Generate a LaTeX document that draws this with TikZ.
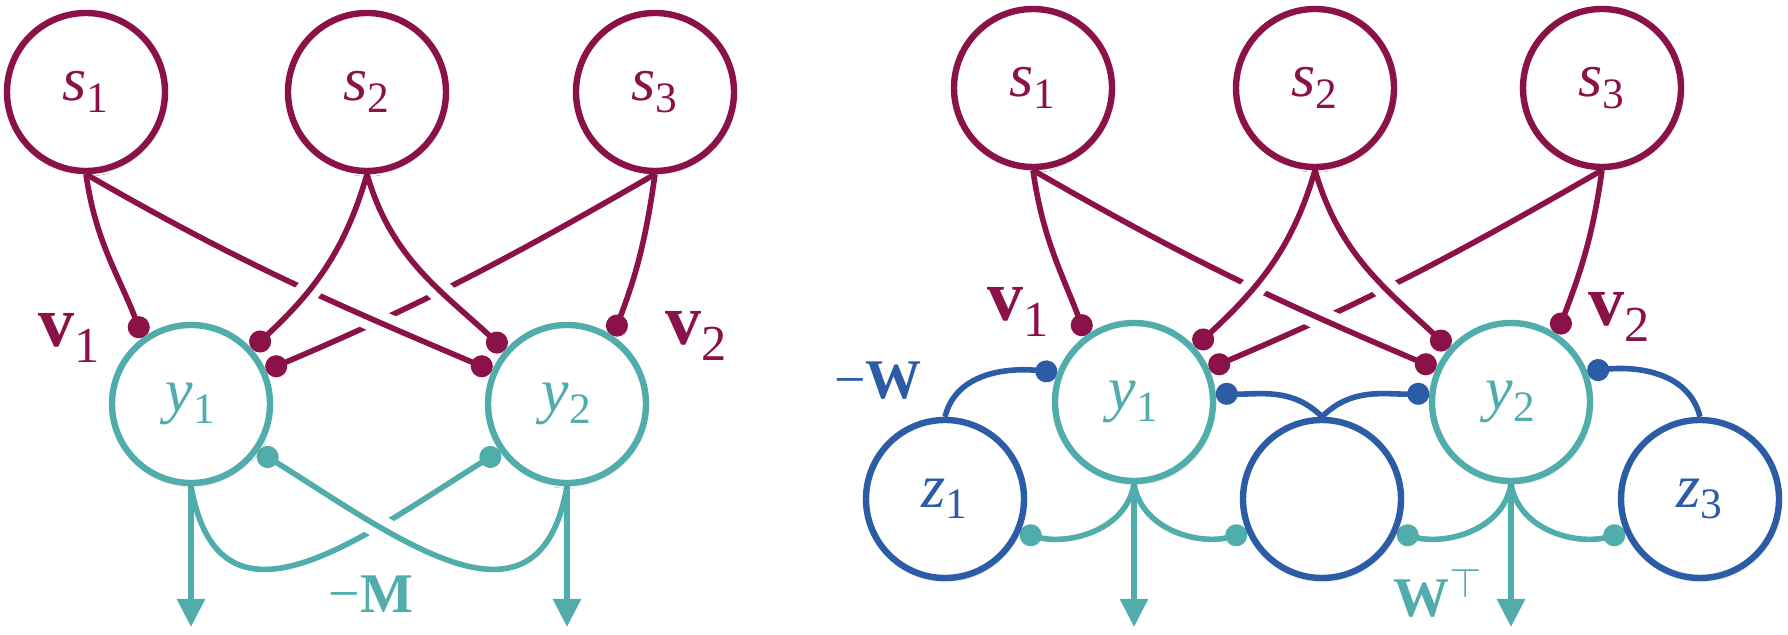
\documentclass[tikz,border=0pt]{standalone}
\usepackage{fontspec}
\setmainfont{Liberation Serif}
\usetikzlibrary{arrows.meta,shadows.blur}

\definecolor{cmaroon}{RGB}{139,17,73}
\definecolor{cteal}{RGB}{81,173,172}
\definecolor{cblue}{RGB}{43,92,165}

\pgfdeclarelayer{bg}
\pgfsetlayers{bg,main}

\begin{document}
\begin{tikzpicture}[x=0.5pt,y=-0.5pt,
  neuron/.style={circle,fill=white,line width=3.2pt,minimum size=79pt,inner sep=0pt,
    font=\fontsize{31}{36}\selectfont,
    blur shadow={shadow xshift=0.4pt,shadow yshift=-1pt,shadow blur radius=1.6pt,shadow opacity=30}},
  snode/.style={neuron,draw=cmaroon,text=cmaroon},
  ynode/.style={neuron,draw=cteal,text=cteal},
  znode/.style={neuron,draw=cblue,text=cblue},
  vlabel/.style={inner sep=0pt,text=cmaroon,font=\fontsize{36}{40}\selectfont},
  wlabel/.style={inner sep=0pt,font=\fontsize{28}{32}\selectfont},
  vline/.style={draw=cmaroon,line width=2.8pt,-{Circle[length=11pt]}},
  mline/.style={draw=cteal,line width=2.8pt,-{Circle[length=11pt]}},
  wline/.style={draw=cblue,line width=2.8pt,-{Circle[length=11pt]}},
  halo/.style={draw=white,line width=12pt},
  outarrow/.style={draw=cteal,line width=2.8pt,-{Triangle[width=13.5pt,length=14pt]}}]
\useasboundingbox (0,0) rectangle (1788,635);

% left network
\node[snode] (ls1) at (86,92) {\textit{s}\textsubscript{1}};
\node[snode] (ls2) at (367,92) {\textit{s}\textsubscript{2}};
\node[snode] (ls3) at (655,92) {\textit{s}\textsubscript{3}};
\node[ynode] (ly1) at (191,404) {\textit{y}\textsubscript{1}};
\node[ynode] (ly2) at (567,404) {\textit{y}\textsubscript{2}};
\node[vlabel] (lv1) at (70,338) {{\bfseries v}\textsubscript{1}};
\node[vlabel] (lv2) at (697,336) {{\bfseries v}\textsubscript{2}};
\node[wlabel,text=cteal] (lM) at (371,594) {−\textbf{M}};
\coordinate (lo1) at (191,627);
\coordinate (lo2) at (567,627);

% right network
\node[snode] (rs1) at (1033,88) {\textit{s}\textsubscript{1}};
\node[snode] (rs2) at (1315,88) {\textit{s}\textsubscript{2}};
\node[snode] (rs3) at (1602,88) {\textit{s}\textsubscript{3}};
\node[ynode] (ry1) at (1134,402) {\textit{y}\textsubscript{1}};
\node[ynode] (ry2) at (1511,402) {\textit{y}\textsubscript{2}};
\node[znode] (rz1) at (945,499) {\textit{z}\textsubscript{1}};
\node[znode] (rz2) at (1322,499) {};
\node[znode] (rz3) at (1700,499) {\textit{z}\textsubscript{3}};
\node[vlabel] (rv1) at (1019,312) {{\bfseries v}\textsubscript{1}};
\node[vlabel] (rv2) at (1620,317) {{\bfseries v}\textsubscript{2}};
\node[wlabel,text=cblue] (rW) at (878,381) {−\textbf{W}};
\node[wlabel,text=cteal] (rWT) at (1438,593) {\textbf{W}\textsuperscript{$\top$}};
\coordinate (ro1) at (1134,627);
\coordinate (ro2) at (1511,627);

\begin{pgfonlayer}{bg}
% feedforward weights, left
\draw[vline] (ls3.south) to[out=-150,in=23] (ly1.24);
\foreach \st in {halo,vline}
  \draw[\st] (ls1.south) to[out=-30,in=157] (ly2.156);
\foreach \st in {halo,vline} {
  \draw[\st] (ls2.south) to[out=-106,in=43] (ly1.42);
  \draw[\st] (ls2.south) to[out=-74,in=137] (ly2.139);
}
\draw[vline] (ls1.south) to[out=-82,in=111] (ly1.126);
\draw[vline] (ls3.south) to[out=-98,in=69] (ly2.56);
% lateral weights, left
\draw[mline] (ly1.south) to[out=-80,in=212,looseness=1.35] (ly2.215);
\foreach \st in {halo,mline}
  \draw[\st] (ly2.south) to[out=-100,in=-32,looseness=1.35] (ly1.-35);
\draw[outarrow] (ly1) -- (lo1);
\draw[outarrow] (ly2) -- (lo2);

% feedforward weights, right
\draw[vline] (rs3.south) to[out=-150,in=23] (ry1.24);
\foreach \st in {halo,vline}
  \draw[\st] (rs1.south) to[out=-30,in=157] (ry2.156);
\foreach \st in {halo,vline} {
  \draw[\st] (rs2.south) to[out=-106,in=43] (ry1.42);
  \draw[\st] (rs2.south) to[out=-74,in=137] (ry2.139);
}
\draw[vline] (rs1.south) to[out=-82,in=111] (ry1.126);
\draw[vline] (rs3.south) to[out=-98,in=69] (ry2.56);
% interneurons, right
\draw[wline] (rz1.north) to[out=76,in=174] (ry1.159);
\draw[wline] (rz2.north) to[out=135,in=-2] (ry1.6);
\draw[wline] (rz2.north) to[out=45,in=182] (ry2.174);
\draw[wline] (rz3.north) to[out=104,in=6] (ry2.22);
\draw[mline] (ry1.south) to[out=-100,in=-15] (rz1.-24);
\draw[mline] (ry1.south) to[out=-80,in=195] (rz2.204);
\draw[mline] (ry2.south) to[out=-100,in=-15] (rz2.-24);
\draw[mline] (ry2.south) to[out=-80,in=195] (rz3.204);
\draw[outarrow] (ry1) -- (ro1);
\draw[outarrow] (ry2) -- (ro2);
\end{pgfonlayer}
\end{tikzpicture}
\end{document}
